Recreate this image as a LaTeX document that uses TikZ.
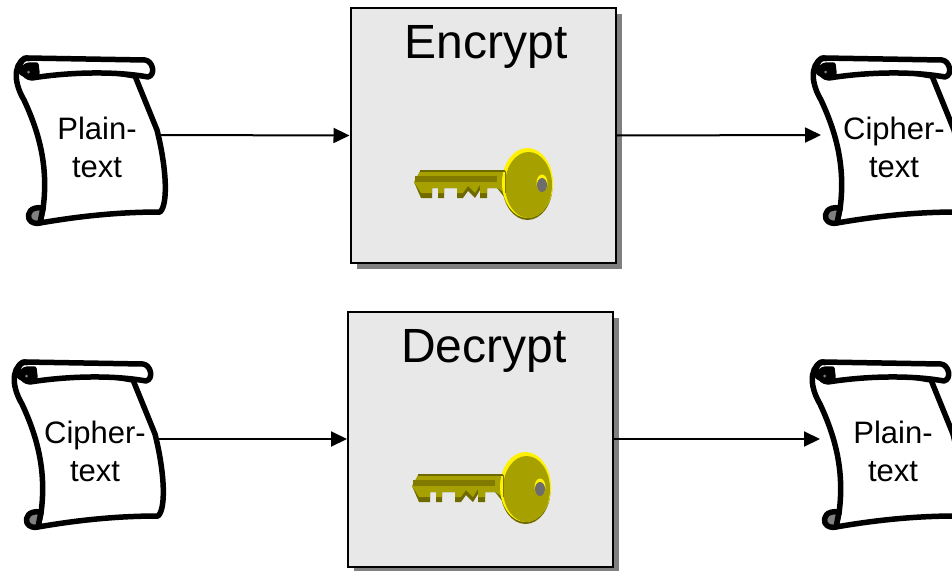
\documentclass[tikz,border=0pt]{standalone}
\usepackage{fontspec}
\setmainfont{Liberation Sans}
\usetikzlibrary{arrows.meta,positioning,shadows}

\definecolor{keyolive}{HTML}{A6A000}
\definecolor{keydark}{HTML}{807B00}
\definecolor{keyshade}{HTML}{6E6A00}
\definecolor{boxgray}{HTML}{E8E8E8}
\definecolor{curlgray}{HTML}{808080}

\tikzset{
    flowbox/.style={draw, line width=2pt, fill=boxgray, minimum width=265pt, minimum height=255pt,
        drop shadow={shadow xshift=6pt, shadow yshift=-6pt, fill=curlgray, opacity=1}},
    boxtitle/.style={font=\fontsize{48}{48}\selectfont, inner sep=0pt},
    scrolltext/.style={font=\fontsize{31}{38}\selectfont, align=center, inner sep=0pt},
    scrollline/.style={line width=5.5pt, line join=round, line cap=round},
    flow/.style={-{Triangle[length=16pt,width=15pt]}, line width=2pt}
}

% #1 name, #2 shift, #3 text
\newcommand{\scrollat}[3]{
    \begin{scope}[shift={#2}]
        \draw[scrollline, fill=white] (25,58) .. controls (12,66) and (15,85) .. (24,100)
            .. controls (38,130) and (49,165) .. (43,209)
            -- (40,223) .. controls (80,216) and (120,212) .. (160,212)
            .. controls (168,205) and (167,170) .. (157,130) -- (135,76) -- cycle;
        \draw[scrollline, fill=white] (27,58) -- (145,60) .. controls (153,61) and (156,75) .. (148,77)
            .. controls (115,71) and (70,72) .. (32,78) .. controls (22,77) and (20,66) .. (30,65)
            -- (36,65) -- (37,73);
        \draw[scrollline] (27,58) .. controls (18,60) and (18,72) .. (24,74);
        \fill (30,71) ellipse (7pt and 7pt);
        \fill[curlgray] (28.5,72) circle (1.5pt);
        \draw[scrollline, fill=curlgray] (43,208) .. controls (30,206) and (27,214) .. (29,219)
            .. controls (31,223) and (36,224) .. (40,223) -- cycle;
        \coordinate (#1in) at (24,135);
        \coordinate (#1out) at (158,135);
        \node (#1) [scrolltext] at (97,147) {#3};
    \end{scope}
}

% #1 shift
\newcommand{\keyat}[1]{
    \begin{scope}[shift={#1}]
        \fill[keyshade] (527.5,186) ellipse (25pt and 34pt);
        % teeth, shade first and the blade over it
        \fill[keyshade] (414,182) -- (421,198) -- (432,198) -- (432,188) -- (438,188) -- (438,198) -- (444,198)
            -- (444,188) -- (457,188) -- (457,198) -- (463,198) -- (468,191) -- (475,198) -- (480,190)
            -- (480,198) -- (487,198) -- (487,188) -- (497,188) -- (505,198) -- (505,182) -- cycle;
        \fill[keyolive] (414,182) -- (421,193) -- (432,193) -- (432,188) -- (438,188) -- (438,193) -- (444,193)
            -- (444,188) -- (457,188) -- (457,193) -- (463,193) -- (468,186) -- (475,193) -- (480,185)
            -- (480,193) -- (487,193) -- (487,188) -- (497,188) -- (505,193) -- (505,171) -- (420,171) -- cycle;
        \fill[yellow] (527.5,183) ellipse (25.5pt and 35pt);
        \fill[keyolive] (528.5,185) ellipse (23.5pt and 33pt);
        \fill[keyshade] (420,170) rectangle (505,171.5);
        \fill[keydark] (415,176) rectangle (497,182);
        \draw[keydark, line width=1pt] (505,171) -- (505,193);
        \fill[yellow] (542,183) ellipse (5.5pt and 8.5pt);
        \fill[curlgray!85!black] (542,185) ellipse (5pt and 7pt);
    \end{scope}
}

\begin{document}
\begin{tikzpicture}[x=1pt, y=-1pt]
    \useasboundingbox (0,0) rectangle (952,570);

    % Define nodes
    \node (encrypt) [flowbox] at (483,135.5) {};
    \node (encrypttitle) [boxtitle] at (486,47) {Encrypt};
    \node (decrypt) [flowbox] at (480.5,439) {};
    \node (decrypttitle) [boxtitle] at (484,351) {Decrypt};

    \keyat{(0,0)}
    \keyat{(-2,304)}

    \scrollat{plaina}{(0,0)}{Plain-\\text}
    \scrollat{ciphera}{(797,0)}{Cipher-\\text}
    \scrollat{cipherb}{(-2,304)}{Cipher-\\text}
    \scrollat{plainb}{(796,304)}{Plain-\\text}

    % Straight connections through the boxes
    \draw[flow] (plainaout) -- (encrypt.west);
    \draw[flow] (encrypt.east) -- (cipherain);
    \draw[flow] (cipherbout) -- (decrypt.west);
    \draw[flow] (decrypt.east) -- (plainbin);

\end{tikzpicture}
\end{document}
